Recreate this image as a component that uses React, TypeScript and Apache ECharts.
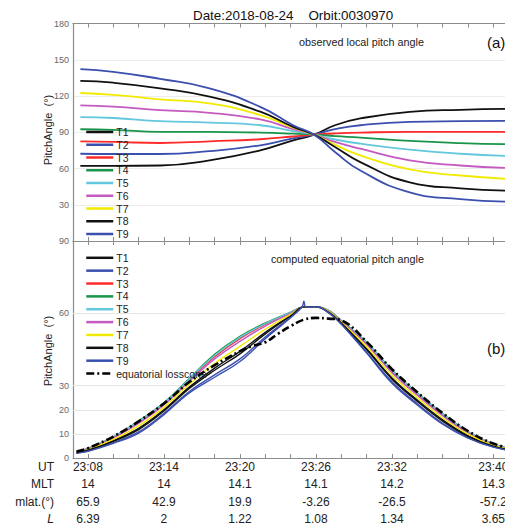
import React, { useEffect, useRef } from 'react';
import * as echarts from 'echarts';

const FONT = '"Liberation Sans", Arial, Helvetica, sans-serif';

const seriesNames = ['T1', 'T2', 'T3', 'T4', 'T5', 'T6', 'T7', 'T8', 'T9'];
const seriesColors = ['#111111', '#3b4fae', '#ff2a2a', '#19954a', '#63c7dd', '#c45ac0', '#f2ea00', '#111111', '#3b4fae'];

// x axis: minutes after 23:00 UT
const tickMinutes = [8, 10, 12, 14, 16, 18, 20, 22, 24, 26, 28, 30, 32, 34, 36, 38, 40, 42];
const labelMinutes = [8, 14, 20, 26, 32, 40];
const utLabels = ['23:08', '23:14', '23:20', '23:26', '23:32', '23:40'];
const mltLabels = ['14', '14', '14.1', '14.1', '14.2', '14.3'];
const mlatLabels = ['65.9', '42.9', '19.9', '-3.26', '-26.5', '-57.2'];
const lLabels = ['6.39', '2', '1.22', '1.08', '1.34', '3.65'];
const rowNames = ['UT', 'MLT', 'mlat.(°)', 'L'];

// panel (a): observed local pitch angle
const minutesA = [7.4, 10, 13.7, 17.6, 21.6, 24.2, 25.85, 27.5, 29.5, 33.4, 37.4, 41.5];
const localT1 = [62.2, 62.2, 62.5, 66.7, 75, 83.3, 88, 95.8, 101.4, 106.9, 108.6, 109.3];
const localT2 = [72.2, 72, 72, 74.4, 79.2, 85, 88, 92.5, 95.8, 98.6, 99.2, 99.5];
const localT3 = [82.5, 82, 81.1, 82.5, 84.2, 86.5, 88, 89, 89.7, 90.3, 90.3, 90.3];
const localT4 = [92.5, 92, 90.3, 90.3, 89.7, 88.8, 88, 86.8, 85.6, 82.8, 81, 80];
const localT5 = [102.5, 101.8, 99.2, 98, 95.8, 91, 88, 84, 80.6, 75.6, 72.2, 70.2];
const localT6 = [112.2, 111.2, 108.3, 106.1, 100.6, 92.5, 88, 82, 76.4, 66.7, 62.5, 60.4];
const localT7 = [122.5, 121, 117.2, 113.9, 104.2, 93.8, 88, 79.7, 70.8, 59.2, 54.2, 51.2];
const localT8 = [132.5, 131, 126.4, 119.4, 107, 94.5, 88, 77.8, 65.3, 48.6, 43.6, 41.6];
const localT9 = [142.2, 140, 134.2, 126.4, 111, 95.8, 88, 73.6, 58.3, 40.3, 34.7, 32.4];

// panel (b): computed equatorial pitch angle
const minutesB = [7.1, 8, 10, 12, 14, 16, 18, 20, 22, 24, 25, 26, 27, 28, 30, 32, 34, 36, 38, 40, 42];
const eqT1 = [2.2, 3.3, 7.2, 12.3, 20, 29.4, 37.3, 44.2, 52.1, 59.1, 62.6, 62.7, 60.6, 56.1, 45.3, 33.2, 24, 15.8, 9.3, 5, 2.8];
const eqT2 = [2.1, 2.9, 6.4, 10.8, 18.5, 27.6, 34.5, 41.1, 50.2, 58.4, 62.6, 62.7, 60.3, 55.7, 43.9, 31.6, 22.5, 14.4, 8.5, 4.6, 2.6];
const eqT3 = [2.5, 3.9, 8.5, 14.8, 22.5, 32.4, 42, 49.5, 55.4, 60.3, 62.6, 62.8, 61.1, 56.9, 47.6, 35.9, 26.5, 18, 10.7, 5.7, 3.1];
const eqT4 = [2.6, 4, 8.8, 15.3, 23, 33, 43, 50.5, 56, 60.5, 62.6, 62.8, 61.2, 57, 48, 36.5, 27, 18.4, 11, 5.8, 3.2];
const eqT5 = [2.6, 3.9, 8.7, 15.1, 22.8, 32.7, 42.5, 50, 55.7, 60.4, 62.6, 62.8, 61.2, 56.9, 47.8, 36.2, 26.8, 18.2, 10.9, 5.7, 3.2];
const eqT6 = [2.5, 3.8, 8.3, 14.3, 22, 31.8, 41.1, 48.4, 54.7, 60, 62.6, 62.8, 61, 56.7, 47.1, 35.4, 26, 17.5, 10.4, 5.5, 3.1];
const eqT7 = [2.4, 3.5, 7.7, 13.3, 21, 30.6, 39.2, 46.3, 53.4, 59.6, 62.6, 62.7, 60.8, 56.4, 46.2, 34.3, 25, 16.6, 9.9, 5.3, 2.9];
const eqT8 = [2.2, 3.2, 6.9, 11.8, 19.5, 28.8, 36.4, 43.2, 51.5, 58.9, 62.6, 62.7, 60.5, 56, 44.9, 32.7, 23.5, 15.3, 9, 4.9, 2.7];
const minutesB9 = [7.1, 8, 10, 12, 14, 16, 18, 20, 22, 24, 24.9, 25.05, 25.2, 26, 27, 28, 30, 32, 34, 36, 38, 40, 42];
const eqT9 = [2, 2.8, 6.1, 10.3, 18, 27, 33.5, 40, 49.5, 58.2, 62.6, 65, 62.6, 62.7, 60.2, 55.5, 43.5, 31, 22, 14, 8.2, 4.5, 2.5];
const minutesLoss = [7.1, 8, 10, 12, 14, 16, 18, 20, 21, 22, 23, 24, 25, 26, 27, 28, 30, 32, 34, 36, 38, 40, 42];
const lossCone = [2.7, 4.1, 8.9, 15.2, 22.6, 31.5, 38.5, 44.3, 46.5, 48, 51.5, 54.7, 57.3, 58.1, 57.8, 57.1, 48.2, 36.8, 27.3, 18.6, 11.2, 6, 3.3];

const panelBLabelValues = [0, 10, 20, 30, 60, 90];
const panelBGridValues = [10, 20, 30, 60];

const localSets = [localT1, localT2, localT3, localT4, localT5, localT6, localT7, localT8, localT9];
const eqSets = [eqT1, eqT2, eqT3, eqT4, eqT5, eqT6, eqT7, eqT8, eqT9];

const X_MIN = 6.82;
const X_MAX = 44;
const AXIS_COLOR = '#8c8c8c';

function pair(xs: number[], ys: number[]) {
  return ys.map((y, i) => [xs[i], y]);
}

function xAxisBase(gridIndex: number, position: 'top' | 'bottom', showLabels: boolean) {
  return {
    type: 'value',
    gridIndex,
    position,
    min: X_MIN,
    max: X_MAX,
    splitLine: { show: false },
    axisLine: { show: true, lineStyle: { color: AXIS_COLOR, width: 1.2 } },
    axisTick: { show: true, inside: true, length: 4, customValues: tickMinutes, lineStyle: { color: AXIS_COLOR, width: 1 } },
    axisLabel: showLabels
      ? {
          show: true,
          customValues: labelMinutes,
          margin: 0,
          fontFamily: FONT,
          fontSize: 12,
          lineHeight: 17.5,
          color: '#222',
          formatter: (v: number) => {
            const i = labelMinutes.findIndex((m) => Math.abs(m - v) < 1e-6);
            if (i < 0) return '';
            return [utLabels[i], mltLabels[i], mlatLabels[i], lLabels[i]].join('\n');
          },
        }
      : { show: false },
  };
}

export default function App() {
  const ref = useRef<HTMLDivElement>(null);

  useEffect(() => {
    if (!ref.current) return;
    const chart = echarts.init(ref.current, undefined, { renderer: 'svg' });

    const seriesA = seriesNames.map((name, i) => ({
      name,
      type: 'line',
      xAxisIndex: 0,
      yAxisIndex: 0,
      data: pair(minutesA, localSets[i]),
      smooth: true,
      symbol: 'none',
      lineStyle: { color: seriesColors[i], width: 1.8 },
      itemStyle: { color: seriesColors[i] },
      z: 3,
    }));

    const seriesB = seriesNames.map((name, i) => ({
      name,
      type: 'line',
      xAxisIndex: 2,
      yAxisIndex: 1,
      data: i === 8 ? pair(minutesB9, eqSets[i]) : pair(minutesB, eqSets[i]),
      smooth: 0.4,
      symbol: 'none',
      lineStyle: { color: seriesColors[i], width: 1.4 },
      itemStyle: { color: seriesColors[i] },
      z: 3,
    }));

    const lossSeries = {
      name: 'equatorial losscone',
      type: 'line',
      xAxisIndex: 2,
      yAxisIndex: 1,
      data: pair(minutesLoss, lossCone),
      smooth: 0.4,
      symbol: 'none',
      lineStyle: { color: '#000', width: 2.6, type: [8, 3, 2, 3] },
      itemStyle: { color: '#000' },
      z: 4,
    };

    const gridSeries = {
      name: '__grid',
      type: 'line',
      xAxisIndex: 2,
      yAxisIndex: 1,
      data: [],
      symbol: 'none',
      z: 1,
      markLine: {
        silent: true,
        symbol: ['none', 'none'],
        label: { show: false },
        lineStyle: { color: '#e6e6e6', width: 1, type: 'solid' },
        emphasis: { disabled: true },
        data: panelBGridValues.map((v) => ({ yAxis: v })),
        z: 1,
      },
    };

    const legendCommon = {
      orient: 'vertical',
      left: 85,
      padding: 0,
      itemWidth: 27,
      itemHeight: 10,
      itemGap: 1.75,
      selectedMode: false,
      itemStyle: { opacity: 0, borderWidth: 0 },
      lineStyle: { width: 2.5 },
      textStyle: { fontFamily: FONT, fontSize: 10.5, lineHeight: 10, color: '#222', padding: [0, 0, 0, -2] },
    };

    const option: any = {
      animation: false,
      backgroundColor: '#fff',
      textStyle: { fontFamily: FONT },
      grid: [
        { left: 73, top: 23.5, width: 471, height: 217.5 },
        { left: 73, top: 241, width: 471, height: 218 },
      ],
      xAxis: [
        xAxisBase(0, 'bottom', false),
        xAxisBase(0, 'top', false),
        xAxisBase(1, 'bottom', true),
        xAxisBase(1, 'top', false),
      ],
      yAxis: [
        {
          type: 'value',
          gridIndex: 0,
          min: 0,
          max: 180,
          interval: 30,
          axisLine: { show: true, lineStyle: { color: AXIS_COLOR, width: 1.2 } },
          axisTick: { show: false },
          splitLine: { show: true, lineStyle: { color: '#ececec', width: 1 } },
          axisLabel: {
            margin: 4,
            fontFamily: FONT,
            fontSize: 9,
            color: '#666',
            formatter: (v: number) => (v === 0 ? '' : String(v)),
          },
        },
        {
          type: 'value',
          gridIndex: 1,
          min: 0,
          max: 90,
          interval: 10,
          axisLine: { show: true, lineStyle: { color: AXIS_COLOR, width: 1.2 } },
          axisTick: { show: false },
          splitLine: { show: false },
          axisLabel: {
            margin: 4,
            fontFamily: FONT,
            fontSize: 9,
            color: '#666',
            formatter: (v: number) => (panelBLabelValues.includes(v) ? String(v) : ''),
          },
        },
      ],
      legend: [
        { ...legendCommon, top: 126.5, data: seriesNames },
        { ...legendCommon, top: 252.3, itemGap: 1.86, data: [...seriesNames, 'equatorial losscone'] },
      ],
      graphic: [
        { type: 'text', x: 193, y: 15, style: { text: 'Date:2018-08-24    Orbit:0030970', fontFamily: FONT, fontSize: 13.4, fill: '#111', textVerticalAlign: 'middle', textAlign: 'left' } },
        { type: 'text', x: 361.5, y: 42, style: { text: 'observed local pitch angle', fontFamily: FONT, fontSize: 10.8, fill: '#222', textAlign: 'center', textVerticalAlign: 'middle' } },
        { type: 'text', x: 487, y: 42, style: { text: '(a)', fontFamily: FONT, fontSize: 15, fill: '#111', textAlign: 'left', textVerticalAlign: 'middle' } },
        { type: 'text', x: 347.5, y: 259, style: { text: 'computed equatorial pitch angle', fontFamily: FONT, fontSize: 10.8, fill: '#222', textAlign: 'center', textVerticalAlign: 'middle' } },
        { type: 'text', x: 487, y: 348, style: { text: '(b)', fontFamily: FONT, fontSize: 15, fill: '#111', textAlign: 'left', textVerticalAlign: 'middle' } },
        { type: 'text', x: 48, y: 130, rotation: Math.PI / 2, style: { text: 'PitchAngle  (°)', fontFamily: FONT, fontSize: 11, fill: '#222', textAlign: 'center', textVerticalAlign: 'middle' } },
        { type: 'text', x: 48, y: 351, rotation: Math.PI / 2, style: { text: 'PitchAngle  (°)', fontFamily: FONT, fontSize: 11, fill: '#222', textAlign: 'center', textVerticalAlign: 'middle' } },
        ...rowNames.map((t, i) => ({
          type: 'text',
          x: 54,
          y: 466.5 + i * 17.5,
          style: {
            text: t,
            fontFamily: FONT,
            fontSize: 12,
            fontStyle: t === 'L' ? 'italic' : 'normal',
            fill: '#222',
            textAlign: 'right',
            textVerticalAlign: 'middle',
          },
        })),
      ],
      series: [...seriesA, ...seriesB, lossSeries, gridSeries],
    };

    chart.setOption(option);
    return () => chart.dispose();
  }, []);

  return (
    <div style={{ position: 'absolute', left: 0, top: 0, width: 505, height: 528, overflow: 'hidden', background: '#fff' }}>
      <div ref={ref} style={{ position: 'absolute', left: 0, top: 0, width: 560, height: 528 }} />
    </div>
  );
}
